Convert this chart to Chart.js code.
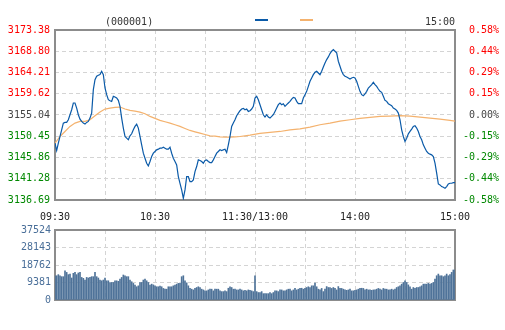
<!DOCTYPE html>
<html>
<head>
<meta charset="utf-8">
<script src="https://cdn.jsdelivr.net/npm/chart.js@4.4.0/dist/chart.umd.min.js"></script>
<style>
body{margin:0;background:#fff;}
#wrap{position:relative;width:505px;height:330px;font:10px 'DejaVu Sans Mono',monospace;}
#price{position:absolute;left:0;top:0;}
#vol{position:absolute;left:0;top:220px;}
.t{position:absolute;color:#333;white-space:nowrap;line-height:12px;}
.dash{position:absolute;height:2px;width:13px;}
</style>
</head>
<body>
<div id="wrap">
<canvas id="price" width="505" height="225"></canvas>
<canvas id="vol" width="505" height="90"></canvas>
<div class="t" style="left:105px;top:16px">(000001)</div>
<div class="dash" style="left:255px;top:19px;background:#0a5aa8"></div>
<div class="dash" style="left:300px;top:19px;background:#f4b26e"></div>
<div class="t" style="left:425px;top:16px">15:00</div>
</div>
<script>
// price per minute, 09:30 .. 15:00 (241 points)
const prices = [
3148.96, 3147.37, 3148.96, 3150.40, 3151.84, 3153.29, 3153.43, 3153.43, 3154.01, 3155.09,
3156.17, 3157.62, 3157.62, 3156.53, 3155.09, 3154.15, 3153.65, 3153.29, 3153.07, 3153.43,
3153.65, 3154.37, 3155.45, 3160.50, 3162.67, 3163.39, 3163.61, 3163.75, 3164.47, 3163.75,
3160.86, 3159.42, 3158.34, 3158.12, 3157.98, 3159.06, 3158.92, 3158.70, 3158.19, 3156.90,
3154.37, 3152.21, 3150.40, 3150.04, 3149.68, 3150.55, 3150.98, 3151.84, 3152.57, 3153.07,
3152.21, 3150.40, 3148.60, 3146.79, 3145.71, 3144.63, 3144.05, 3144.99, 3146.07, 3146.79,
3147.16, 3147.52, 3147.66, 3147.88, 3147.88, 3148.09, 3147.88, 3147.66, 3147.66, 3148.09,
3146.79, 3145.71, 3144.99, 3144.27, 3141.74, 3140.30, 3138.86, 3137.05, 3138.86, 3141.74,
3141.74, 3140.66, 3140.66, 3141.02, 3142.83, 3143.91, 3145.35, 3145.21, 3144.99, 3144.63,
3145.21, 3145.35, 3144.99, 3144.77, 3144.77, 3145.35, 3146.07, 3146.79, 3147.16, 3147.52,
3147.37, 3147.52, 3147.66, 3146.94, 3148.60, 3150.40, 3152.57, 3153.29, 3154.01, 3154.88,
3155.45, 3155.96, 3156.32, 3156.46, 3156.17, 3156.32, 3155.81, 3155.96, 3156.32, 3156.90,
3158.70, 3159.06, 3158.34, 3157.26, 3156.17, 3155.09, 3154.59, 3155.09, 3154.59, 3154.37,
3154.73, 3155.09, 3155.81, 3156.53, 3157.26, 3157.62, 3157.26, 3157.47, 3156.90, 3157.26,
3157.62, 3157.98, 3158.48, 3158.84, 3158.70, 3157.98, 3157.47, 3157.47, 3157.47, 3158.70,
3159.42, 3160.14, 3161.22, 3162.31, 3163.03, 3163.75, 3164.25, 3164.47, 3164.11, 3163.75,
3164.47, 3165.41, 3166.27, 3167.00, 3167.57, 3168.30, 3168.80, 3169.16, 3168.80, 3168.44,
3166.64, 3165.55, 3164.47, 3163.75, 3163.39, 3163.24, 3163.03, 3162.81, 3163.03, 3163.17,
3163.03, 3162.31, 3161.22, 3160.14, 3159.42, 3159.20, 3159.57, 3160.14, 3160.86, 3161.22,
3161.59, 3162.09, 3161.59, 3161.22, 3160.65, 3160.14, 3159.93, 3159.06, 3158.19, 3157.98,
3157.47, 3157.26, 3157.04, 3156.53, 3156.32, 3156.03, 3155.45, 3154.01, 3151.84, 3150.40,
3149.32, 3150.04, 3150.98, 3151.48, 3151.99, 3152.57, 3152.71, 3152.21, 3151.48, 3150.40,
3149.68, 3148.60, 3147.88, 3147.16, 3146.79, 3146.58, 3146.43, 3146.07, 3144.63, 3142.47,
3140.16, 3139.94, 3139.58, 3139.44, 3139.22, 3139.58, 3140.16, 3140.30, 3140.30, 3140.45,
3140.45
];

// average price line, read every few minutes
const avgMinutes = [0, 3, 6, 9, 12, 15, 18, 21, 24, 27, 30, 33, 36, 39, 42, 45, 48, 51, 54, 57,
  60, 63, 66, 69, 72, 75, 78, 81, 84, 87, 90, 93, 96, 99, 102, 105, 108, 111, 114, 117,
  123, 129, 135, 141, 147, 153, 159, 165, 171, 177, 183, 189, 195, 201, 207, 213, 219, 225, 231, 237, 240];
const avgPrices = [3148.96, 3150.40, 3151.48, 3152.57, 3153.29, 3153.65, 3153.65, 3154.01, 3154.88, 3155.67,
  3156.32, 3156.53, 3156.68, 3156.75, 3156.32, 3156.03, 3155.89, 3155.67, 3155.31, 3154.73,
  3154.30, 3153.87, 3153.58, 3153.29, 3152.93, 3152.57, 3152.13, 3151.70, 3151.41, 3151.12,
  3150.83, 3150.55, 3150.47, 3150.33, 3150.26, 3150.26, 3150.33, 3150.40, 3150.55, 3150.69,
  3151.05, 3151.27, 3151.48, 3151.84, 3152.06, 3152.42, 3152.93, 3153.29, 3153.72, 3154.01,
  3154.30, 3154.51, 3154.73, 3154.80, 3154.88, 3154.80, 3154.59, 3154.37, 3154.15, 3153.87, 3153.72];

// volume per minute
const volumes = [
13000, 13000, 13600, 13000, 12500, 12500, 15700, 14800, 13600, 13900,
11800, 14300, 14800, 13600, 14500, 14800, 12100, 11600, 10700, 12100,
11800, 12100, 12500, 12500, 14800, 12500, 11800, 10700, 10300, 10700,
11800, 10300, 10300, 9400, 9400, 9400, 10300, 10300, 10000, 11200,
12100, 13400, 13000, 12500, 12500, 10700, 9800, 8900, 8000, 7100,
7600, 9400, 9400, 10700, 11200, 10300, 9400, 8000, 8500, 8100,
7600, 7100, 7100, 7400, 7100, 6200, 5800, 5800, 7100, 7100,
7100, 7600, 8000, 8500, 8900, 9100, 12500, 13000, 10300, 9200,
7600, 6300, 5800, 5400, 6200, 6700, 7100, 6700, 5800, 5400,
4900, 4900, 5400, 5800, 5800, 4900, 5800, 5800, 5800, 4900,
4500, 4500, 4900, 4500, 6300, 7100, 6700, 5800, 5800, 5400,
5400, 5800, 5400, 4900, 5200, 4900, 5400, 5200, 4900, 4500,
13000, 4500, 4000, 4000, 4500, 3400, 3400, 3400, 3400, 4000,
3400, 4000, 4900, 4900, 4500, 5400, 5400, 4900, 4900, 5400,
5800, 5800, 4900, 5400, 6300, 5400, 5800, 6200, 6300, 5800,
6200, 6700, 7100, 6700, 7600, 7600, 9100, 7100, 5800, 5400,
6200, 4500, 5800, 7200, 6700, 6700, 6200, 6700, 6200, 5400,
7200, 6200, 6200, 5800, 5400, 5200, 5400, 5800, 4900, 4900,
5200, 5400, 5800, 6300, 6300, 6200, 5400, 5800, 5400, 5400,
5200, 5400, 5400, 5800, 6200, 5800, 5400, 6200, 5800, 5800,
5400, 5400, 5800, 5400, 5800, 6700, 7100, 7600, 8500, 9400,
10300, 9400, 8100, 7100, 5800, 6700, 6300, 6700, 6700, 7100,
7600, 8500, 8500, 8500, 8900, 8500, 8900, 9400, 11200, 13000,
13900, 13000, 13000, 12500, 13000, 13900, 13000, 13600, 14800, 16100,
16100
];

const prevClose = 3155.04;
const priceTicks = [3136.69, 3141.28, 3145.86, 3150.45, 3155.04, 3159.62, 3164.21, 3168.80, 3173.38];
const pctLabels = ['-0.58%', '-0.44%', '-0.29%', '-0.15%', '0.00%', '0.15%', '0.29%', '0.44%', '0.58%'];
const volTicks = [0, 9381, 18762, 28143, 37524];
const gridMinutes = [0, 30, 60, 90, 120, 150, 180, 210, 240];
const timeMinutes = [0, 60, 120, 180, 240];
const timeLabels = ['09:30', '10:30', '11:30/13:00', '14:00', '15:00'];

Chart.defaults.font.family = "'DejaVu Sans Mono', monospace";
Chart.defaults.font.size = 10;
Chart.defaults.animation = false;
Chart.defaults.responsive = false;
Chart.defaults.devicePixelRatio = 1;
Chart.defaults.plugins.legend.display = false;
Chart.defaults.plugins.tooltip.enabled = false;

const gridColor = '#d4d4d4';
const dash = [4, 3];

// box round the plot area
const frame = {
	id: 'frame',
	beforeDatasetsDraw(chart) {
		const a = chart.chartArea, c = chart.ctx;
		c.save();
		c.strokeStyle = '#8c8c8c';
		c.lineWidth = 2;
		c.strokeRect(Math.round(a.left), Math.round(a.top), Math.round(a.right - a.left), Math.round(a.bottom - a.top));
		c.restore();
	}
};

function tickColor(v){
	if (Math.abs(v - prevClose) < 0.005) return '#444';
	return v > prevClose ? '#ff0000' : '#008800';
}

function timeAxis(showLabels){
	return {
		type: 'linear', min: 0, max: 240, offset: false,
		afterBuildTicks: s => { s.ticks = gridMinutes.map(v => ({value: v})); },
		afterFit: s => { s.height = showLabels ? 25 : 0; },
		grid: {color: gridColor, drawTicks: false, offset: false},
		border: {display: false, dash: dash},
		ticks: {
			display: showLabels, padding: 11, color: '#222', maxRotation: 0, autoSkip: false,
			callback: v => timeLabels[timeMinutes.indexOf(v)] ?? ''
		}
	};
}

new Chart(document.getElementById('price'), {
	type: 'line',
	data: {
		datasets: [{
			data: prices.map((p, i) => ({x: i, y: p})),
			borderColor: '#0a5aa8',
			borderWidth: 1.2,
			pointRadius: 0,
			yAxisID: 'y'
		}, {
			data: avgMinutes.map((m, i) => ({x: m, y: avgPrices[i]})),
			borderColor: '#f4b26e',
			borderWidth: 1.2,
			pointRadius: 0,
			yAxisID: 'y'
		}]
	},
	options: {
		layout: {padding: {top: 30, right: 6, left: 0, bottom: 0}},
		scales: {
			x: timeAxis(true),
			y: {
				position: 'left', min: priceTicks[0], max: priceTicks[8],
				afterBuildTicks: s => { s.ticks = priceTicks.map(v => ({value: v})); },
				afterFit: s => { s.width = 55; },
				grid: {color: gridColor, drawTicks: false},
				border: {display: false, dash: dash},
				ticks: {padding: 5, color: ctx => tickColor(ctx.tick.value), callback: v => v.toFixed(2)}
			},
			y1: {
				position: 'right', min: priceTicks[0], max: priceTicks[8],
				afterBuildTicks: s => { s.ticks = priceTicks.map(v => ({value: v})); },
				afterFit: s => { s.width = 44; },
				grid: {display: false},
				border: {display: false},
				ticks: {crossAlign: 'far', padding: 0, color: ctx => tickColor(ctx.tick.value),
					callback: v => pctLabels[priceTicks.indexOf(v)]}
			}
		}
	},
	plugins: [frame]
});

new Chart(document.getElementById('vol'), {
	type: 'bar',
	data: {
		datasets: [{
			data: volumes.map((v, i) => ({x: i, y: v})),
			backgroundColor: '#4f7399',
			barThickness: 1,
			borderWidth: 0
		}]
	},
	options: {
		layout: {padding: {top: 10, right: 50, left: 0, bottom: 10}},
		scales: {
			x: timeAxis(false),
			y: {
				min: 0, max: volTicks[4],
				afterBuildTicks: s => { s.ticks = volTicks.map(v => ({value: v})); },
				afterFit: s => { s.width = 55; },
				grid: {color: gridColor, drawTicks: false},
				border: {display: false, dash: dash},
				ticks: {padding: 4, color: '#4a6f99', callback: v => String(v)}
			}
		}
	},
	plugins: [frame]
});
</script>
</body>
</html>
